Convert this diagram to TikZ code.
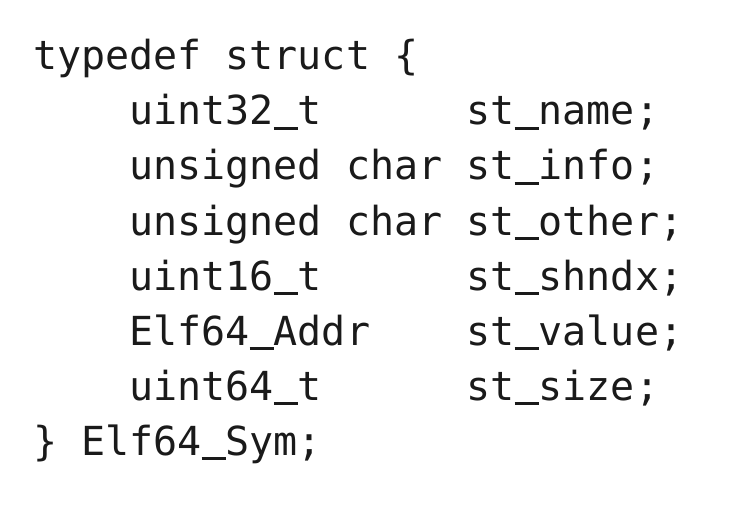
\documentclass[tikz,border=0pt]{standalone}
\usepackage{fontspec}
\setmonofont{DejaVu Sans Mono}
\definecolor{codeink}{HTML}{1A1A1A}
\newcommand{\usc}{\rule[-0.125em]{0.602em}{0.08em}}
\begin{document}
\begin{tikzpicture}[x=1pt,y=1pt,
  codeline/.style={anchor=base west,inner sep=0pt,outer sep=0pt,text=codeink,
    font=\ttfamily\fontsize{40}{55}\selectfont}]
\useasboundingbox[fill=white] (0,0) rectangle (735,512);
\def\xz{33}
\def\xi{129.3}
\node[codeline] (l1) at (\xz,442) {typedef struct \{};
\node[codeline] (l2) at (\xi,387) {uint32\usc t\ \ \ \ \ \ st\usc name;};
\node[codeline] (l3) at (\xi,332) {unsigned char st\usc info;};
\node[codeline] (l4) at (\xi,277) {unsigned char st\usc other;};
\node[codeline] (l5) at (\xi,222) {uint16\usc t\ \ \ \ \ \ st\usc shndx;};
\node[codeline] (l6) at (\xi,167) {Elf64\usc Addr\ \ \ \ st\usc value;};
\node[codeline] (l7) at (\xi,112) {uint64\usc t\ \ \ \ \ \ st\usc size;};
\node[codeline] (l8) at (\xz,57) {\} Elf64\usc Sym;};
\end{tikzpicture}
\end{document}
